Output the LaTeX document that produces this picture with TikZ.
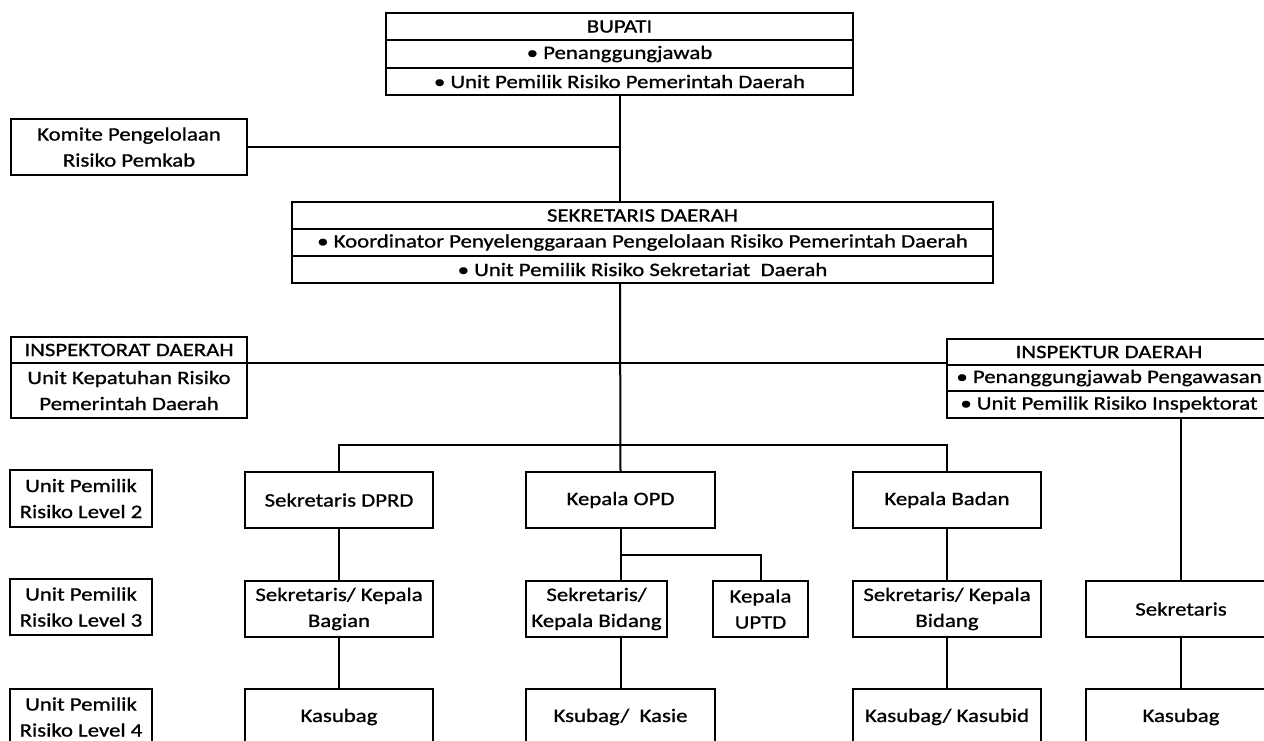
\documentclass[tikz,border=0pt]{standalone}
\usepackage{fontspec}
\setmainfont{Carlito}[FakeStretch=1.2, UprightFeatures={FakeBold=0.9}]
\usetikzlibrary{positioning}

\begin{document}
\begin{tikzpicture}[x=1pt, y=-1pt,
    box/.style={draw, line width=2pt, align=center, inner sep=0pt, outer sep=0pt,
        font=\fontsize{19}{26}\selectfont},
    cell/.style 2 args={box, minimum width=#1, minimum height=#2},
    link/.style={line width=2pt}]
\useasboundingbox (0,0) rectangle (1264,740);
\clip (0,0) rectangle (1264,740);

% Bupati
\node[cell={467}{27}] (bupatiA) at (619.5,26.5) {BUPATI};
\node[cell={467}{28}, below=0pt of bupatiA] (bupatiB) {• Penanggungjawab};
\node[cell={467}{27}, below=0pt of bupatiB] (bupatiC) {• Unit Pemilik Risiko Pemerintah Daerah};

% Komite
\node[cell={236}{56}] (komite) at (129,147) {Komite Pengelolaan\\Risiko Pemkab};

% Sekretaris Daerah
\node[cell={701}{27}] (sekdaA) at (642.5,215.5) {SEKRETARIS DAERAH};
\node[cell={701}{27}, below=0pt of sekdaA] (sekdaB) {• Koordinator Penyelenggaraan Pengelolaan Risiko Pemerintah Daerah};
\node[cell={701}{27}, below=0pt of sekdaB] (sekdaC) {• Unit Pemilik Risiko Sekretariat\ \ Daerah};

% Inspektorat and Inspektur
\node[cell={236}{26}] (inspektoratA) at (129,350) {INSPEKTORAT DAERAH};
\node[cell={236}{55}, below=0pt of inspektoratA] (inspektoratB) {Unit Kepatuhan Risiko\\Pemerintah Daerah};
\node[cell={324}{26}] (inspekturA) at (1109,352) {INSPEKTUR DAERAH};
\node[cell={324}{26}, below=0pt of inspekturA] (inspekturB) {• Penanggungjawab Pengawasan};
\node[cell={324}{27}, below=0pt of inspekturB] (inspekturC) {• Unit Pemilik Risiko Inspektorat};

% Level labels
\node[cell={142}{57}] (lvlB) at (81,498.5) {Unit Pemilik\\Risiko Level 2};
\node[cell={142}{56}] (lvlC) at (81,607) {Unit Pemilik\\Risiko Level 3};
\node[cell={142}{56}] (lvlD) at (81,717) {Unit Pemilik\\Risiko Level 4};

% Level 2
\node[cell={188}{56}] (dprd) at (339,500) {Sekretaris DPRD};
\node[cell={189}{56}] (opd) at (620.5,500) {Kepala OPD};
\node[cell={188}{56}] (badan) at (947,500) {Kepala Badan};

% Level 3
\node[cell={188}{56}] (bagian) at (339,609) {Sekretaris/ Kepala\\Bagian};
\node[cell={141}{56}] (bidangA) at (596.5,609) {Sekretaris/\\Kepala Bidang};
\node[cell={95}{56}] (uptd) at (760.5,609) {Kepala\\UPTD};
\node[cell={188}{56}] (bidangB) at (947,609) {Sekretaris/ Kepala\\Bidang};
\node[cell={190}{56}] (sekr) at (1181,609) {Sekretaris};

% Level 4
\node[cell={188}{56}] (kasubagA) at (339,717) {Kasubag};
\node[cell={189}{56}] (kasie) at (620.5,717) {Ksubag/\ \ Kasie};
\node[cell={188}{56}] (kasubid) at (947,717) {Kasubag/ Kasubid};
\node[cell={190}{56}] (kasubagB) at (1181,717) {Kasubag};

% Connectors
\coordinate (hub) at (620,445);
\coordinate (opdsplit) at (620,555);
\draw[link] (bupatiC.south) -- (bupatiC.south |- sekdaA.north);
\draw[link] (komite.east) -- (komite.east -| bupatiC.south);
\draw[link] (sekdaC.south -| hub) -- (opd.north);
\draw[link] (inspektoratB.north east) -- (inspektoratB.north east -| inspekturB.west);
\draw[link] (dprd.north) |- (hub) -| (badan.north);
\draw[link] (dprd.south) -- (bagian.north);
\draw[link] (bagian.south) -- (kasubagA.north);
\draw[link] (opd.south) -- (opd.south |- bidangA.north);
\draw[link] (opdsplit) -| (uptd.north);
\draw[link] (kasie.north |- bidangA.south) -- (kasie.north);
\draw[link] (badan.south) -- (bidangB.north);
\draw[link] (bidangB.south) -- (kasubid.north);
\draw[link] (inspekturC.south -| sekr.north) -- (sekr.north);
\draw[link] (sekr.south) -- (kasubagB.north);
\end{tikzpicture}
\end{document}
